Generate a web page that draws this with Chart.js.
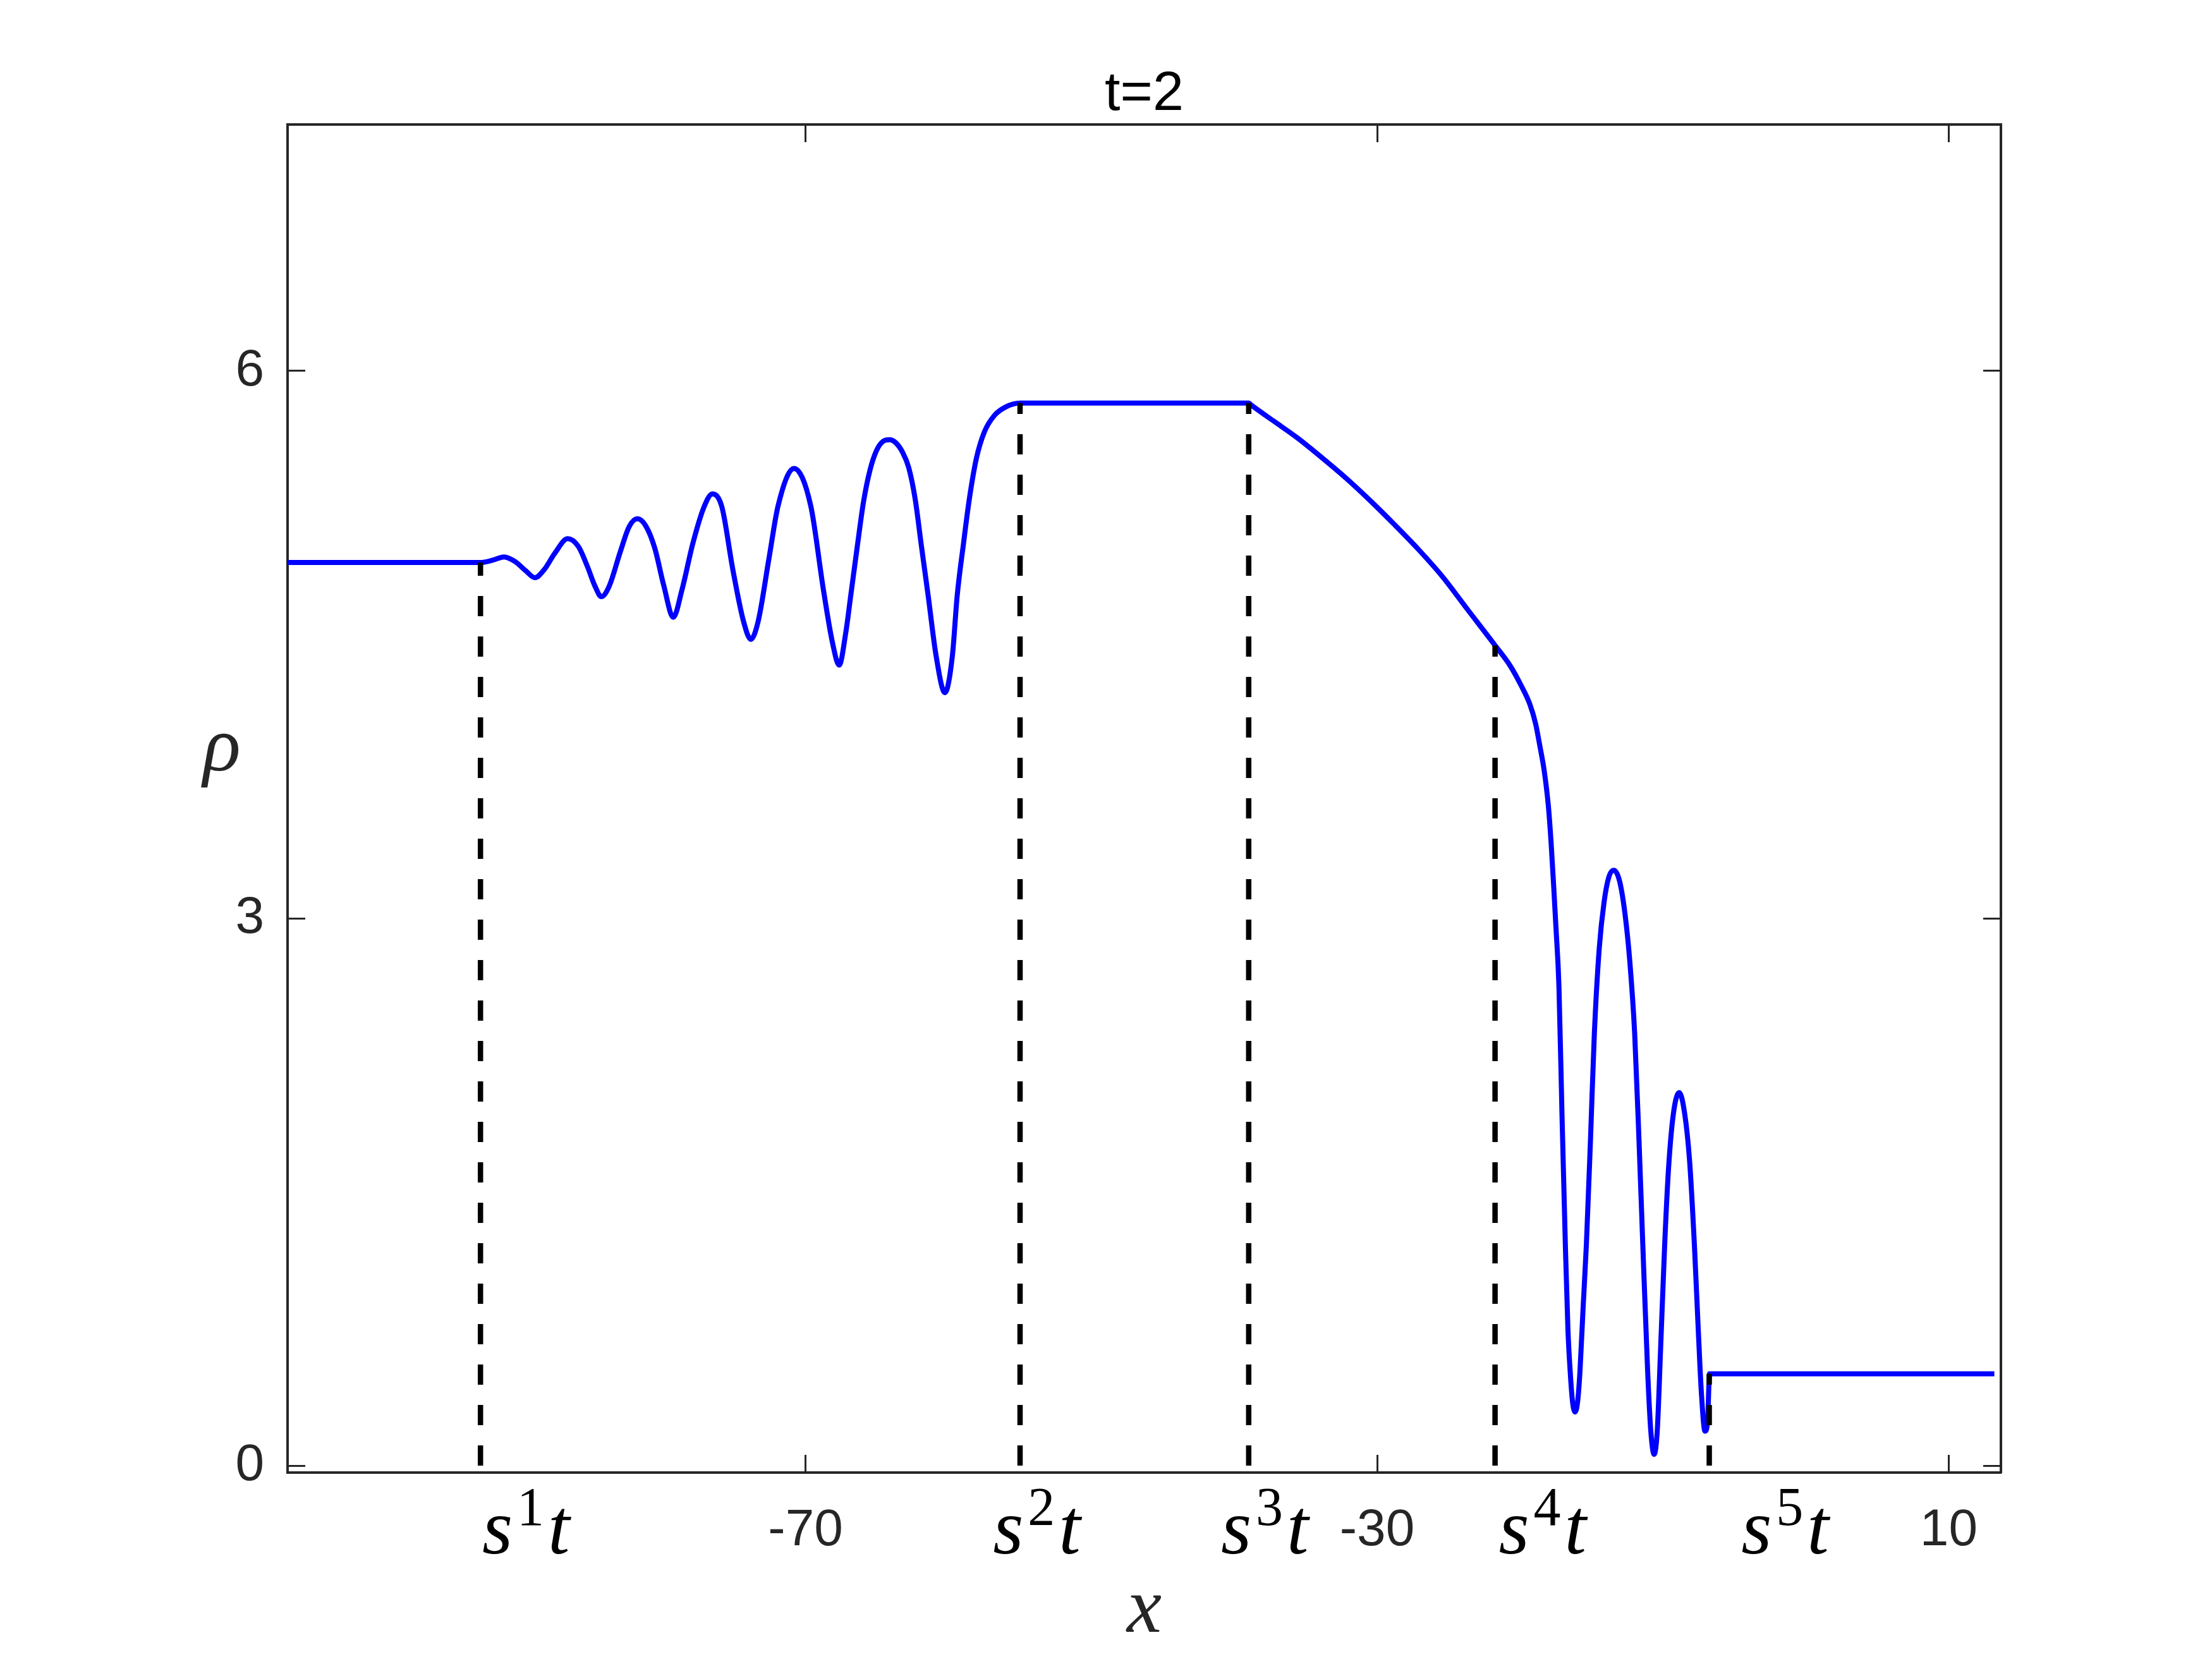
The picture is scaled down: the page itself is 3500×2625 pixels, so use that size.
<!DOCTYPE html>
<html>
<head>
<meta charset="utf-8">
<script src="https://cdn.jsdelivr.net/npm/chart.js@4/dist/chart.umd.min.js"></script>
<style>
html,body{margin:0;padding:0;background:#ffffff;}
#wrap{width:3500px;height:2625px;position:relative;}
</style>
</head>
<body>
<div id="wrap"><canvas id="c" width="3500" height="2625"></canvas></div>
<script>
// ---- data ----
const curveX = [
  -106.25, -92.75, -92.49, -91.86, -91.10, -90.34, -89.57, -88.94, -88.30, -87.54,
  -86.65, -85.89, -85.26, -84.75, -84.29, -83.73, -82.97, -82.34, -81.78, -81.19,
  -80.56, -79.92, -79.26, -78.65, -77.89, -77.13, -76.52, -75.86, -75.10, -74.34,
  -73.83, -73.32, -72.56, -71.92, -70.81, -69.64, -68.75, -68.12, -67.65, -67.18,
  -66.84, -66.39, -65.94, -65.49, -65.04, -64.58, -64.13, -63.68, -63.23, -62.78,
  -62.33, -61.88, -61.42, -60.86, -60.25, -59.73, -59.39, -58.94, -58.54, -58.04,
  -57.47, -56.80, -56.01, -54.99,
  -38.99, -38.78, -37.25, -35.56, -33.87, -32.17, -30.48, -28.79, -27.09, -25.40,
  -23.71, -21.75, -20.69, -19.90, -19.31, -18.91, -18.62, -18.32, -18.02, -17.83,
  -17.63, -17.49, -17.28, -17.06, -16.83, -16.65, -16.49, -16.33, -16.15, -15.97,
  -15.81, -15.59, -15.36, -15.07, -14.80, -14.46, -14.12, -13.78, -13.44, -13.04,
  -12.65, -12.32, -11.98, -11.68, -11.41, -11.07, -10.85, -10.62, -10.40, -10.17,
  -9.88, -9.61, -9.27, -8.86, -8.48, -8.14, -7.80, -7.53, -7.31, -7.06,
  -6.88, -6.74, 13.19];
const curveY = [
  4.950, 4.950, 4.952, 4.964, 4.981, 4.956, 4.904, 4.867, 4.910, 5.002,
  5.081, 5.037, 4.927, 4.823, 4.763, 4.823, 5.008, 5.147, 5.190, 5.152,
  5.031, 4.823, 4.650, 4.800, 5.054, 5.250, 5.326, 5.256, 4.916, 4.627,
  4.529, 4.627, 4.973, 5.262, 5.466, 5.262, 4.800, 4.512, 4.388, 4.569,
  4.768, 5.033, 5.285, 5.457, 5.563, 5.614, 5.623, 5.606, 5.557, 5.470,
  5.298, 5.033, 4.768, 4.436, 4.237, 4.436, 4.768, 5.059, 5.298, 5.523,
  5.669, 5.755, 5.802, 5.824,
  5.824, 5.811, 5.726, 5.632, 5.525, 5.412, 5.289, 5.158, 5.020, 4.870,
  4.696, 4.496, 4.384, 4.272, 4.172, 4.066, 3.947, 3.814, 3.616, 3.417,
  3.152, 2.953, 2.630, 1.906, 1.210, 0.746, 0.514, 0.352, 0.294, 0.352,
  0.514, 0.862, 1.210, 1.790, 2.370, 2.834, 3.089, 3.228, 3.263, 3.205,
  3.020, 2.764, 2.370, 1.790, 1.210, 0.514, 0.189, 0.062, 0.189, 0.630,
  1.210, 1.628, 1.929, 2.045, 1.929, 1.674, 1.210, 0.746, 0.398, 0.189,
  0.236, 0.503, 0.503];

const shockX = [-92.75, -54.99, -38.99, -21.75, -6.76];
const shockTop = [4.950, 5.824, 5.824, 4.496, 0.503];
const shockIndex = ['1', '2', '3', '4', '5'];
const shockLabelX = [-89.4, -53.65, -37.7, -18.26, -1.29];

const xTickValues = [-70, -30, 10];
const yTickValues = [0, 3, 6];
const xRange = [-106.25, 13.65];
const yRange = [-0.038, 7.351];

const titleText = 't=2';
const xLabelText = 'x';
const yLabelText = 'ρ';
const shockBase = 's';
const shockTail = 't';

// ---- chart ----
const AX = '#262626';
const datasets = [];
shockX.forEach((sx, i) => {
  datasets.push({
    data: [{x: sx, y: 0}, {x: sx, y: shockTop[i]}],
    borderColor: '#000000',
    borderWidth: 8.5,
    borderDash: [32, 32],
    borderCapStyle: 'butt',
    pointRadius: 0,
    fill: false,
    tension: 0,
    order: 0
  });
});
datasets.push({
  data: curveX.map((x, i) => ({x: x, y: curveY[i]})),
  borderColor: '#0000ff',
  borderWidth: 8,
  borderCapStyle: 'butt',
  borderJoinStyle: 'round',
  pointRadius: 0,
  fill: false,
  cubicInterpolationMode: 'monotone',
  order: 1
});

// fixed margins around the plot box (pixels)
const MARGIN = {left: 455, right: 334, top: 197, bottom: 295};

function frameAxis(pos, ticksArr, showLabels, range, padding) {
  return {
    type: 'linear',
    position: pos,
    min: range[0],
    max: range[1],
    afterBuildTicks: s => { s.ticks = ticksArr.map(v => ({value: v})); },
    afterFit: s => { s[s.isHorizontal() ? 'height' : 'width'] = MARGIN[pos]; },
    grid: {display: true, drawOnChartArea: false, drawTicks: true, tickLength: -28, tickWidth: 3, tickColor: AX},
    border: {display: true, color: AX, width: 4},
    ticks: {
      display: showLabels,
      color: AX,
      font: {family: '"Liberation Sans", Arial, sans-serif', size: 82, lineHeight: 1},
      padding: padding,
      maxRotation: 0,
      minRotation: 0,
      autoSkip: false,
      callback: v => String(v)
    }
  };
}

const textPlugin = {
  id: 'texts',
  afterDraw(chart) {
    const ctx = chart.ctx;
    const a = chart.chartArea;
    const xs = chart.scales.x;
    const cx = (a.left + a.right) / 2;
    ctx.save();
    // title
    ctx.fillStyle = '#000000';
    ctx.font = '88px "Liberation Sans", Arial, sans-serif';
    ctx.textAlign = 'center';
    ctx.textBaseline = 'alphabetic';
    ctx.fillText(titleText, cx, a.top - 23);
    // x label
    ctx.fillStyle = AX;
    ctx.font = 'italic 124px "Liberation Serif", serif';
    ctx.fillText(xLabelText, cx, a.bottom + 252);
    // y label
    ctx.fillText(yLabelText, a.left - 104, (a.top + a.bottom) / 2 - 45);
    // shock labels
    ctx.fillStyle = '#000000';
    ctx.textAlign = 'left';
    shockLabelX.forEach((lx, i) => {
      const px = xs.getPixelForValue(lx);
      const left = px - 73;
      const base = a.bottom + 128;
      ctx.font = 'italic 124px "Liberation Serif", serif';
      ctx.fillText(shockBase, left, base);
      ctx.font = '86px "Liberation Serif", serif';
      ctx.fillText(shockIndex[i], left + 55, base - 45);
      ctx.font = 'italic 124px "Liberation Serif", serif';
      ctx.fillText(shockTail, left + 104, base);
    });
    ctx.restore();
  }
};

new Chart(document.getElementById('c'), {
  type: 'line',
  data: {datasets: datasets},
  options: {
    responsive: false,
    devicePixelRatio: 1,
    animation: false,
    events: [],
    layout: {padding: 0},
    plugins: {legend: {display: false}, tooltip: {enabled: false}, title: {display: false}},
    scales: {
      x: frameAxis('bottom', xTickValues, true, xRange, 79),
      x2: frameAxis('top', xTickValues, false, xRange, 0),
      y: frameAxis('left', yTickValues, true, yRange, 65),
      y2: frameAxis('right', yTickValues, false, yRange, 0)
    }
  },
  plugins: [textPlugin]
});
</script>
</body>
</html>
